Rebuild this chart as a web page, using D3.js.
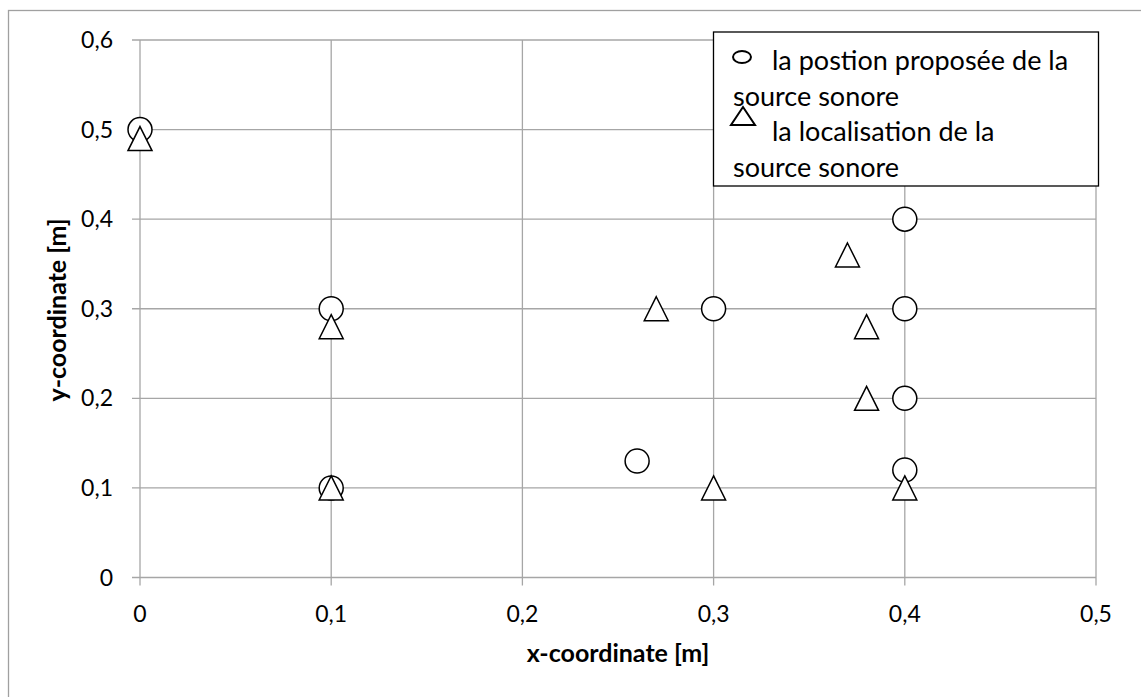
<!DOCTYPE html>
<html>
<head>
<meta charset="utf-8">
<script src="https://cdn.jsdelivr.net/npm/d3@7"></script>
<style>
body { margin: 0; background: #fff; }
svg text { font-family: Lato, "Open Sans", sans-serif; fill: #000; }
.grid line { stroke: #a6a6a6; stroke-width: 1.3; }
</style>
</head>
<body>
<svg width="1141" height="697"></svg>
<script>
// proposed positions (circles) and located sources (triangles)
var proposedX = [0, 0.1, 0.1, 0.26, 0.3, 0.4, 0.4, 0.4, 0.4];
var proposedY = [0.5, 0.3, 0.1, 0.13, 0.3, 0.4, 0.3, 0.2, 0.12];
var locatedX = [0, 0.1, 0.1, 0.27, 0.3, 0.37, 0.38, 0.38, 0.4];
var locatedY = [0.49, 0.28, 0.1, 0.3, 0.1, 0.36, 0.28, 0.2, 0.1];

var xTicks = [0, 0.1, 0.2, 0.3, 0.4, 0.5];
var yTicks = [0, 0.1, 0.2, 0.3, 0.4, 0.5, 0.6];
var legendLabels = [["la postion proposée de la", "source sonore"],
                    ["la localisation de la", "source sonore"]];

var svg = d3.select("svg");
var fmt = function (d) { return d === 0 ? "0" : d3.format(".1f")(d).replace(".", ","); };

var x = d3.scaleLinear().domain([0, 0.5]).range([140, 1096]);
var y = d3.scaleLinear().domain([0, 0.6]).range([577.5, 40]);

// outer chart frame (only top and left visible)
svg.append("rect").attr("x", 8.5).attr("y", 10.5).attr("width", 1200).attr("height", 800)
  .attr("fill", "none").attr("stroke", "#a0a0a0").attr("stroke-width", 1.3);

// gridlines
var grid = svg.append("g").attr("class", "grid");
grid.selectAll("line.h").data(yTicks).enter().append("line")
  .attr("x1", 132).attr("x2", x(0.5))
  .attr("y1", function (d) { return y(d); }).attr("y2", function (d) { return y(d); });
grid.selectAll("line.v").data(xTicks).enter().append("line")
  .attr("x1", function (d) { return x(d); }).attr("x2", function (d) { return x(d); })
  .attr("y1", y(0.6)).attr("y2", y(0) + 8);

// tick labels
svg.selectAll("text.yt").data(yTicks).enter().append("text")
  .attr("x", 113).attr("y", function (d) { return y(d) + 8; })
  .attr("text-anchor", "end").style("font-size", "23px").text(fmt);
svg.selectAll("text.xt").data(xTicks).enter().append("text")
  .attr("x", function (d) { return x(d); }).attr("y", 622)
  .attr("text-anchor", "middle").style("font-size", "23px").text(fmt);

// axis titles
svg.append("text").attr("x", 618).attr("y", 662).attr("text-anchor", "middle")
  .style("font-size", "25px").style("font-weight", "bold").text("x-coordinate [m]");
svg.append("text").attr("transform", "translate(66,310) rotate(-90)").attr("text-anchor", "middle")
  .style("font-size", "25px").style("font-weight", "bold").text("y-coordinate [m]");

function triPath(w, h) {
  return "M0," + (-h / 2) + "L" + (w / 2) + "," + (h / 2) + "L" + (-w / 2) + "," + (h / 2) + "Z";
}

// circles
svg.selectAll("circle.p").data(proposedX).enter().append("circle")
  .attr("cx", function (d) { return x(d); })
  .attr("cy", function (d, i) { return y(proposedY[i]); })
  .attr("r", 12).attr("fill", "#fff").attr("stroke", "#000").attr("stroke-width", 1.5);

// triangles
svg.selectAll("path.l").data(locatedX).enter().append("path")
  .attr("transform", function (d, i) { return "translate(" + x(d) + "," + y(locatedY[i]) + ")"; })
  .attr("d", triPath(24, 24)).attr("fill", "#fff").attr("stroke", "#000").attr("stroke-width", 1.5);

// legend
var lg = svg.append("g");
lg.append("rect").attr("x", 713.5).attr("y", 32).attr("width", 385).attr("height", 154)
  .attr("fill", "#fff").attr("stroke", "#000").attr("stroke-width", 1.3);
lg.append("ellipse").attr("cx", 742).attr("cy", 57).attr("rx", 9).attr("ry", 6)
  .attr("fill", "#fff").attr("stroke", "#000").attr("stroke-width", 2);
var legendRows = [[772, 70], [733, 106], [772, 141], [733, 177]];
var flat = [legendLabels[0][0], legendLabels[0][1], legendLabels[1][0], legendLabels[1][1]];
lg.selectAll("text").data(flat).enter().append("text")
  .attr("x", function (d, i) { return legendRows[i][0]; })
  .attr("y", function (d, i) { return legendRows[i][1]; })
  .style("font-size", "27px").text(function (d) { return d; });
lg.append("path").attr("transform", "translate(743,116)").attr("d", triPath(24, 18))
  .attr("fill", "none").attr("stroke", "#000").attr("stroke-width", 2);
</script>
</body>
</html>
